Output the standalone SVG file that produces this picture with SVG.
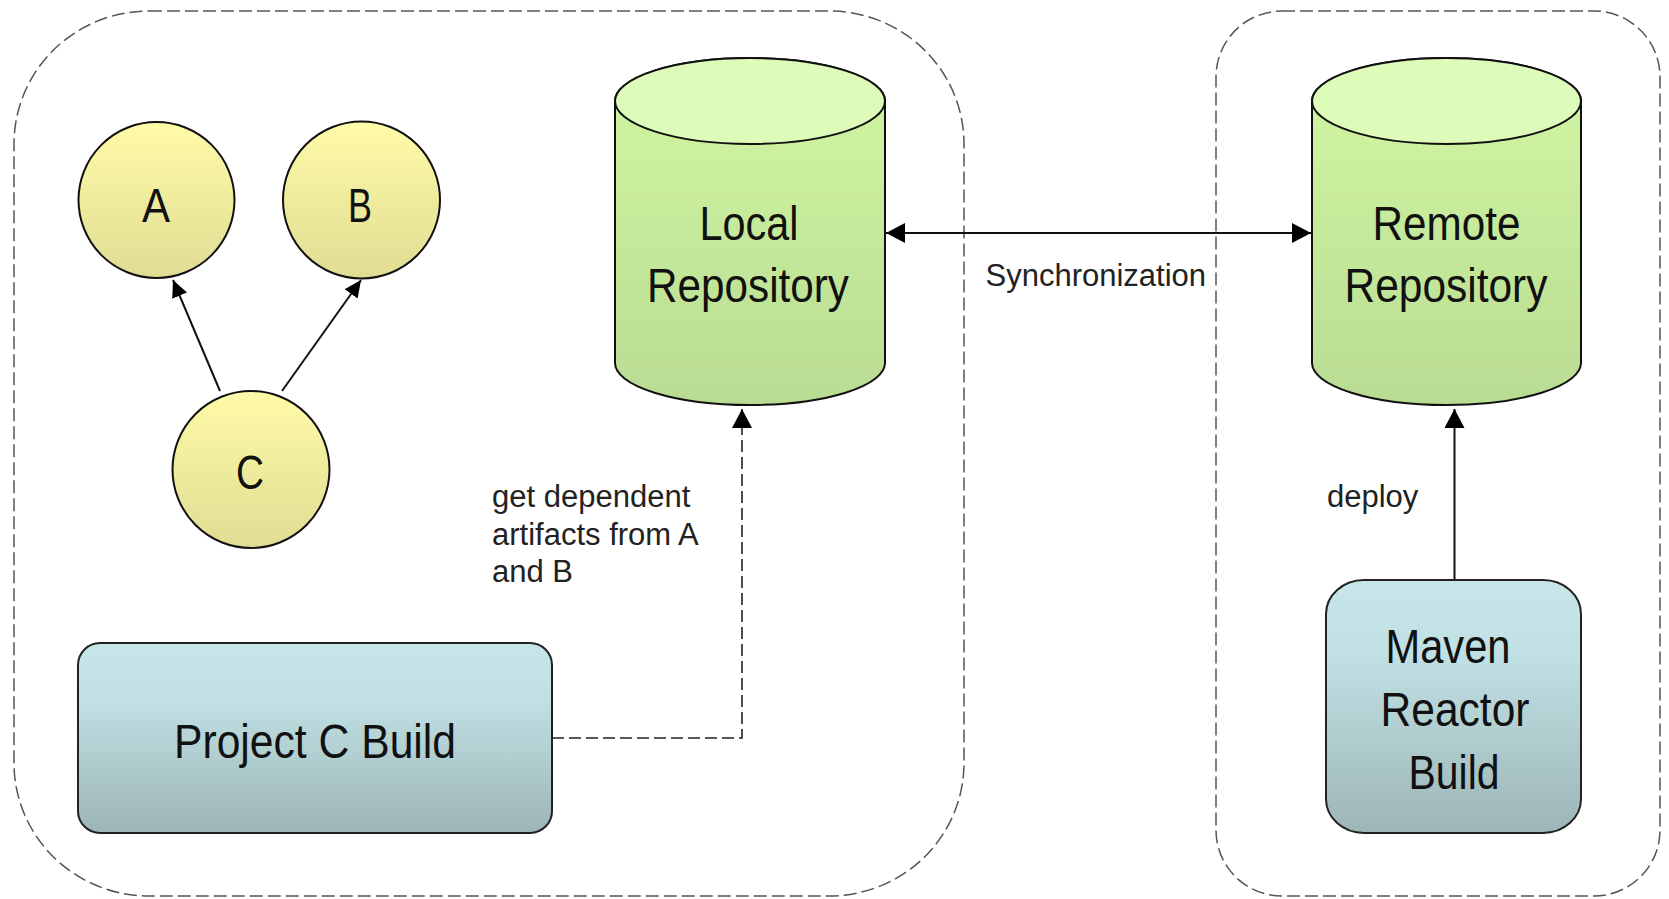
<svg xmlns="http://www.w3.org/2000/svg" width="1669" height="899" viewBox="0 0 1669 899">
  <defs>
    <linearGradient id="gYellow" x1="0" y1="0" x2="0" y2="1">
      <stop offset="0" stop-color="#fffba8"/>
      <stop offset="1" stop-color="#e0dc93"/>
    </linearGradient>
    <linearGradient id="gGreen" x1="0" y1="0" x2="0" y2="1">
      <stop offset="0" stop-color="#d2f7a2"/>
      <stop offset="1" stop-color="#b9dc93"/>
    </linearGradient>
    <linearGradient id="gTeal" x1="0" y1="0" x2="0" y2="1">
      <stop offset="0" stop-color="#c6e6ea"/>
      <stop offset="0.3" stop-color="#c0e0e3"/>
      <stop offset="1" stop-color="#9db5b7"/>
    </linearGradient>
    <marker id="arrow" viewBox="0 0 19 20" refX="19" refY="10" markerWidth="19" markerHeight="20" markerUnits="userSpaceOnUse" orient="auto-start-reverse">
      <path d="M0,0 L19,10 L0,20 Z" fill="#000"/>
    </marker>
    <marker id="arrowSmall" viewBox="0 0 17 16" refX="17" refY="8" markerWidth="17" markerHeight="16" markerUnits="userSpaceOnUse" orient="auto">
      <path d="M0,0 L17,8 L0,16 Z" fill="#000"/>
    </marker>
  </defs>
  <style>
    .zone { fill: none; stroke: #555; stroke-width: 1.5; stroke-dasharray: 13 5; }
    .circle { fill: url(#gYellow); stroke: #111; stroke-width: 2; }
    .cyl { fill: url(#gGreen); stroke: #111; stroke-width: 2; }
    .cyltop { fill: #ddfbb9; stroke: #111; stroke-width: 2; }
    .box { fill: url(#gTeal); stroke: #222; stroke-width: 2; }
    .big { font-family: "Liberation Sans", Arial, sans-serif; font-size: 49px; fill: #111; text-anchor: middle; }
    .small { font-family: "Liberation Sans", Arial, sans-serif; font-size: 31px; fill: #222; }
    .edge { fill: none; stroke: #111; stroke-width: 2; }
    .edge-dash { fill: none; stroke: #222; stroke-width: 1.6; stroke-dasharray: 12 5; }
  </style>

  <!-- dashed zones -->
  <rect class="zone" x="14" y="11" width="950" height="885" rx="135" ry="133"/>
  <rect class="zone" x="1216" y="11" width="444" height="885" rx="66" ry="66"/>

  <!-- connectors -->
  <g id="connectors">
    <line class="edge" x1="220" y1="391" x2="173" y2="280" marker-end="url(#arrowSmall)"/>
    <line class="edge" x1="282" y1="391" x2="361" y2="280" marker-end="url(#arrowSmall)"/>
    <line class="edge" x1="886" y1="233" x2="1311" y2="233" marker-start="url(#arrow)" marker-end="url(#arrow)"/>
    <polyline class="edge-dash" points="552,738 742,738 742,409" marker-end="url(#arrow)"/>
    <line class="edge" x1="1454.5" y1="580" x2="1454.5" y2="409" marker-end="url(#arrow)"/>
    <text class="small" x="985.5" y="285.5">Synchronization</text>
    <text class="small" x="492" y="507">get dependent</text>
    <text class="small" x="492" y="545">artifacts from A</text>
    <text class="small" x="492" y="582">and B</text>
    <text class="small" x="1327" y="507">deploy</text>
  </g>

  <!-- project nodes -->
  <g id="node-a">
    <circle class="circle" cx="156.5" cy="200" r="78"/>
    <text class="big" x="156" y="222" textLength="28" lengthAdjust="spacingAndGlyphs">A</text>
  </g>
  <g id="node-b">
    <circle class="circle" cx="361.5" cy="200" r="78.5"/>
    <text class="big" x="360" y="222" textLength="24" lengthAdjust="spacingAndGlyphs">B</text>
  </g>
  <g id="node-c">
    <circle class="circle" cx="251" cy="469.5" r="78.5"/>
    <text class="big" x="250" y="489" textLength="28" lengthAdjust="spacingAndGlyphs">C</text>
  </g>

  <!-- repositories -->
  <g id="local-repository">
    <path class="cyl" d="M615,101 V363 A135,42 0 0 0 885,363 V101 A135,43 0 0 0 615,101 Z"/>
    <ellipse class="cyltop" cx="750" cy="101" rx="135" ry="43"/>
    <text class="big" x="749" y="240" textLength="99" lengthAdjust="spacingAndGlyphs">Local</text>
    <text class="big" x="748" y="302" textLength="202" lengthAdjust="spacingAndGlyphs">Repository</text>
  </g>
  <g id="remote-repository">
    <path class="cyl" d="M1312,101 V363 A134.5,42 0 0 0 1581,363 V101 A134.5,43 0 0 0 1312,101 Z"/>
    <ellipse class="cyltop" cx="1446.5" cy="101" rx="134.5" ry="43"/>
    <text class="big" x="1446.5" y="240" textLength="148" lengthAdjust="spacingAndGlyphs">Remote</text>
    <text class="big" x="1446" y="302" textLength="203" lengthAdjust="spacingAndGlyphs">Repository</text>
  </g>

  <!-- builds -->
  <g id="project-c-build">
    <rect class="box" x="78" y="643" width="474" height="190" rx="22" ry="22"/>
    <text class="big" x="315" y="758" textLength="282" lengthAdjust="spacingAndGlyphs">Project C Build</text>
  </g>
  <g id="maven-reactor-build">
    <rect class="box" x="1326" y="580" width="255" height="253" rx="38" ry="34"/>
    <text class="big" x="1448" y="663" textLength="125" lengthAdjust="spacingAndGlyphs">Maven</text>
    <text class="big" x="1455" y="726" textLength="149" lengthAdjust="spacingAndGlyphs">Reactor</text>
    <text class="big" x="1454" y="789" textLength="91" lengthAdjust="spacingAndGlyphs">Build</text>
  </g>
</svg>
